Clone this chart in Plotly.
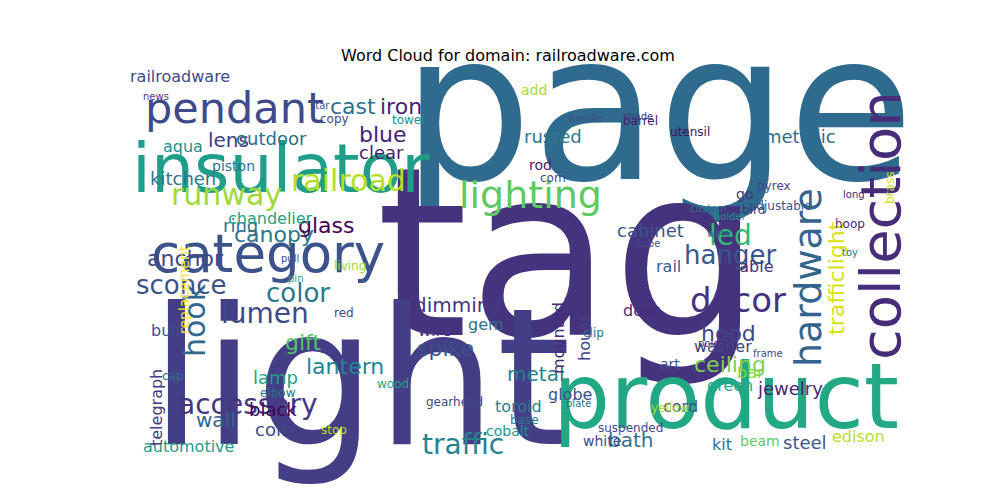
import plotly.graph_objects as go

words = ["page","tag","light","product","insulator","collection","category","pendant","hardware","lighting",
 "railroad","runway","decor","hook","accessory","traffic","lumen","color","sconce","led","hanger","cast","iron",
 "blue","lens","canopy","glass","anchor","ring","trafficlight","hood","ceiling","gift","lantern","spike","dimming",
 "metal","jewelry","wall","coil","black","lamp","bath","steel","cabinet","metallic","outdoor","clear","rusted",
 "kitchen","chandelier","bulb","automotive","aqua","railroadware","telegraph","mounted","gem","wire","globe",
 "green","cord","washer","table","rail","door","houzz","toroid","kit","beam","edison","cobalt","white","bar",
 "piston","add","copy","towel","go","adjustable","pyrex","bird","rod","com","clip","living","red","wood","elbow",
 "replacement","art","yellow","gearhead","base","suspended","stop","cap","brass","long","hoop","toy","utensil",
 "barrel","handle","star","news","shade","custom","holder","wine","cube","pin","pull","plate","pole","frame"]
xs = [650,560,352,718,272,872,260,226,800,522,
 340,218,730,186,240,455,257,290,173,722,722,345,393,
 375,220,266,318,177,232,828,720,722,295,337,437,450,
 527,782,208,262,265,267,622,797,642,792,263,373,545,
 175,262,160,180,175,172,148,550,478,427,562,
 722,672,715,745,660,633,576,510,714,752,850,500,594,742,
 225,526,326,400,736,772,766,745,532,545,585,342,336,385,270,
 176,662,662,446,516,622,326,165,882,846,842,842,682,
 632,578,312,148,630,700,722,710,640,287,282,570,700,760]
ys = [100,245,370,388,160,218,245,100,270,187,
 172,186,292,312,396,436,305,285,277,227,247,98,98,
 126,132,226,217,250,217,270,325,356,334,358,340,297,
 366,380,412,421,401,369,432,434,222,128,130,144,128,
 170,210,322,438,138,68,400,330,316,322,386,
 377,398,338,258,258,302,330,398,436,433,428,423,433,364,
 158,82,111,112,186,198,178,202,157,170,325,258,305,376,385,
 282,356,400,394,412,420,422,368,180,186,216,244,124,
 113,110,97,88,108,200,208,225,235,270,250,395,335,345]
sizes = [205,235,190,90,68,56,53,43,38,38,
 30,30,34,30,28,28,28,26,26,28,26,22,22,
 22,20,22,22,22,18,22,22,22,22,22,22,20,
 20,18,20,18,18,18,20,18,18,18,18,18,18,
 18,16,16,16,16,16,16,16,16,16,16,
 16,16,16,16,16,16,16,16,16,14,16,14,14,16,
 14,14,12,12,14,12,12,12,14,12,12,12,12,12,12,
 14,14,12,12,12,12,12,12,12,10,12,10,12,
 12,10,10,10,10,10,10,10,10,10,10,10,10,10]
colors = ["#2f6b8e","#46337e","#433e85","#22a884","#1f9e89","#472c7a","#3b528b","#3e4a89","#32648e","#5ec962",
 "#b5de2b","#a0da39","#46337e","#31688e","#453781","#26828e","#3e4989","#2a788e","#3b528b","#35b779","#39568c","#2d708e","#481f70",
 "#482173","#443a83","#2a788e","#440154","#3f4788","#2c738e","#d8e219","#404688","#7ad151","#52c569","#25858e","#3b528b","#453882",
 "#27808e","#482677","#32658e","#3e4a89","#440154","#1f9e89","#2c728e","#38598c","#3b528b","#2e6e8e","#2d708e","#481b6d","#2a788e",
 "#2a788e","#20a386","#3d4d8a","#1f9e89","#21908d","#3e4a89","#453781","#482878","#2d708e","#443983","#3b528b",
 "#22a884","#3e4989","#414487","#46337e","#355f8d","#472d7b","#424086","#277f8e","#2e6e8e","#5ec962","#b5de2b","#1f968b","#3f4788","#86d549",
 "#2c728e","#a5db36","#3e4989","#21918c","#453781","#3b528b","#3f4788","#453882","#481a6c","#3e4989","#2c738e","#95d840","#3d4d8a","#20a486","#2d708e",
 "#fde725","#3b528b","#addc30","#3e4989","#2a788e","#3e4989","#c2df23","#2c728e","#d2e21b","#482878","#482878","#2a788e","#471063",
 "#481769","#3d4d8a","#39568c","#453781","#46337e","#2a788e","#21918c","#2c728e","#3b528b","#1fa088","#3b528b","#2d708e","#453781","#3e4989"]
angles = [0]*len(words)
for w in ["collection","hardware","hook","trafficlight","telegraph","mounted","houzz","replacement","brass"]:
    angles[words.index(w)] = -90

fig = go.Figure()
fig.add_trace(go.Scatter(x=[0, 1000], y=[0, 500], mode="markers", marker=dict(opacity=0), hoverinfo="skip", showlegend=False))
for w, x, y, s, c, a in zip(words, xs, ys, sizes, colors, angles):
    fig.add_annotation(x=x, y=y, xref="x", yref="y", text=w, showarrow=False, textangle=a,
                       font=dict(family="DejaVu Sans", size=s, color=c))
fig.add_annotation(x=500, y=47, xref="x", yref="y", text="Word Cloud for domain: railroadware.com",
                   showarrow=False, font=dict(family="DejaVu Sans", size=16, color="black"))
fig.update_layout(width=1000, height=500, margin=dict(l=0, r=0, t=0, b=0),
                  plot_bgcolor="white", paper_bgcolor="white",
                  xaxis=dict(range=[0, 1000], visible=False, fixedrange=True),
                  yaxis=dict(range=[500, 0], visible=False, fixedrange=True))
fig.write_html("out.html")
